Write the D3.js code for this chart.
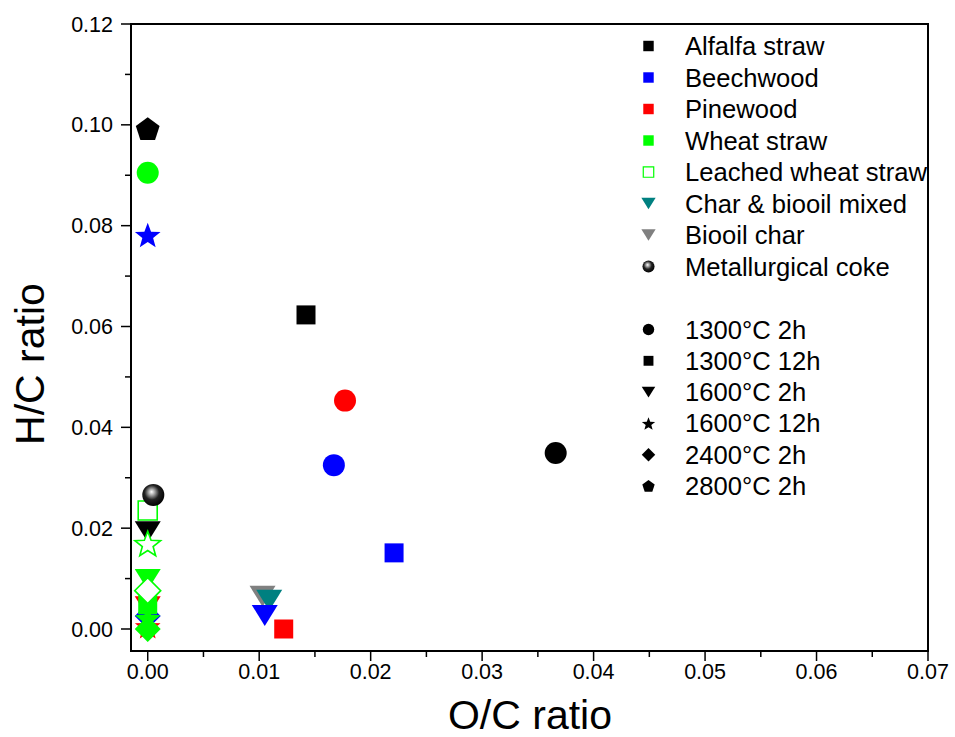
<!DOCTYPE html>
<html><head><meta charset="utf-8">
<script src="https://cdn.jsdelivr.net/npm/d3@7/dist/d3.min.js"></script>
<style>body{margin:0;background:#fff}svg{display:block}text{font-family:"Liberation Sans",Arial,sans-serif}</style>
</head><body><svg id="c" width="955" height="737"></svg>
<script>
// ---- data ----
const seriesNames = ["Alfalfa straw","Beechwood","Pinewood","Wheat straw","Leached wheat straw","Char & biooil mixed","Biooil char","Metallurgical coke"];
const conditionNames = ["1300°C 2h","1300°C 12h","1600°C 2h","1600°C 12h","2400°C 2h","2800°C 2h"];
const xTicks = [0,0.01,0.02,0.03,0.04,0.05,0.06,0.07];
const yTicks = [0,0.02,0.04,0.06,0.08,0.10,0.12];
// [O/C, H/C, condition]
const alfalfa = [[0.0366,0.0349,"1300°C 2h"],[0.0142,0.0623,"1300°C 12h"],[0,0.0193,"1600°C 2h"],[0,0.0992,"2800°C 2h"]];
const beechwood = [[0.0167,0.0325,"1300°C 2h"],[0.0221,0.0151,"1300°C 12h"],[0.0105,0.0027,"1600°C 2h"],[0,0.0782,"1600°C 12h"],[0,0.0026,"2400°C 2h"]];
const pinewood = [[0.0177,0.0453,"1300°C 2h"],[0.0122,0.0,"1300°C 12h"],[0,0.0044,"1600°C 2h"],[0,0.0006,"1600°C 12h"]];
const wheat = [[0,0.0905,"1300°C 2h"],[0,0.0098,"1600°C 2h"],[0,0.0048,"1300°C 12h"],[0,0.0022,"1600°C 12h"],[0,0.0,"2400°C 2h"]];
const leached = [[0,0.0235,"1300°C 12h"],[0,0.0170,"1600°C 12h"],[0,0.0076,"2400°C 2h"]];
const charBiooil = [[0.0109,0.0057,"1600°C 2h"]];
const biooilChar = [[0.0103,0.0065,"1600°C 2h"]];
const coke = [[0.0005,0.0266,"coke"]];

// ---- styles ----
const seriesData = [alfalfa,beechwood,pinewood,wheat,leached,charBiooil,biooilChar,coke];
const seriesColor = ["#000000","#0000ff","#ff0000","#00ff00","#00ff00","#008080","#808080","#000000"];
const seriesOpen = [false,false,false,false,true,false,false,false];
const legendShape = ["square","square","square","square","square","tri","tri","sphere"];
const condShape = {"1300°C 2h":"circle","1300°C 12h":"square","1600°C 2h":"tri","1600°C 12h":"star","2400°C 2h":"diamond","2800°C 2h":"pentagon","coke":"sphere"};
const drawOrder = [6,5,0,1,2,3,4,7];

const svg = d3.select("#c");
const L=131,R=928,T=24,B=651;
const x = d3.scaleLinear().domain([-0.0015,0.07]).range([L,R]);
const y = d3.scaleLinear().domain([0,0.12]).range([629,24]);

const defs = svg.append("defs");
const g = defs.append("radialGradient").attr("id","sph").attr("cx","45%").attr("cy","42%").attr("r","60%").attr("fx","42%").attr("fy","36%");
g.append("stop").attr("offset","0%").attr("stop-color","#ffffff");
g.append("stop").attr("offset","22%").attr("stop-color","#aaaaaa");
g.append("stop").attr("offset","55%").attr("stop-color","#222222");
g.append("stop").attr("offset","100%").attr("stop-color","#000000");

function shapePath(shape,s){
  if(shape==="square"){const h=9.5*s;return `M${-h},${-h}H${h}V${h}H${-h}Z`;}
  if(shape==="circle"){const r=11*s;return `M${r},0A${r},${r} 0 1,1 ${-r},0A${r},${r} 0 1,1 ${r},0Z`;}
  if(shape==="tri"){const w=13*s,h=10.5*s;return `M${-w},${-h}L${w},${-h}L0,${h}Z`;}
  if(shape==="diamond"){const w=13*s,h=13*s;return `M0,${-h}L${w},0L0,${h}L${-w},0Z`;}
  if(shape==="star"){const Ro=13.5*s,Ri=Ro*0.42;let p=[];for(let i=0;i<10;i++){const a=-Math.PI/2+i*Math.PI/5;const r=i%2?Ri:Ro;p.push([r*Math.cos(a),r*Math.sin(a)+1.5*s]);}return "M"+p.map(d=>d.join(",")).join("L")+"Z";}
  if(shape==="pentagon"){const Ro=12.5*s;let p=[];for(let i=0;i<5;i++){const a=-Math.PI/2+i*2*Math.PI/5;p.push([Ro*Math.cos(a),Ro*Math.sin(a)+1*s]);}return "M"+p.map(d=>d.join(",")).join("L")+"Z";}
  return "";
}
function drawMarker(sel,shape,color,open,s){
  if(shape==="sphere"){
    sel.append("circle").attr("r",11*s).attr("fill","url(#sph)");
    return;
  }
  const p = sel.append("path").attr("d",shapePath(shape,s));
  if(open){p.attr("fill","#fff").attr("stroke",color).attr("stroke-width",s<1?1.2:1.6);}
  else p.attr("fill",color);
}

// points
const pts = svg.append("g");
drawOrder.forEach(si=>{
  seriesData[si].forEach(d=>{
    const m = pts.append("g").attr("transform",`translate(${x(d[0])},${y(d[1])})`);
    drawMarker(m,condShape[d[2]],seriesColor[si],seriesOpen[si],1);
  });
});

// frame
const ax = svg.append("g").attr("stroke","#000").attr("fill","none");
ax.append("rect").attr("x",L).attr("y",T).attr("width",R-L).attr("height",B-T).attr("stroke-width",2);
yTicks.forEach(v=>ax.append("line").attr("x1",L-10).attr("x2",L).attr("y1",y(v)).attr("y2",y(v)).attr("stroke-width",1.5));
d3.range(0.01,0.12,0.02).forEach(v=>ax.append("line").attr("x1",L-6).attr("x2",L).attr("y1",y(v)).attr("y2",y(v)).attr("stroke-width",1.5));
xTicks.forEach(v=>ax.append("line").attr("x1",x(v)).attr("x2",x(v)).attr("y1",B).attr("y2",B+10).attr("stroke-width",1.5));
d3.range(0.005,0.07,0.01).forEach(v=>ax.append("line").attr("x1",x(v)).attr("x2",x(v)).attr("y1",B).attr("y2",B+6).attr("stroke-width",1.5));

const lab = svg.append("g").attr("font-size",21.5).attr("fill","#000");
yTicks.forEach(v=>lab.append("text").attr("x",L-18).attr("y",y(v)+7.5).attr("text-anchor","end").text(d3.format(".2f")(v)));
xTicks.forEach(v=>lab.append("text").attr("x",x(v)).attr("y",679).attr("text-anchor","middle").text(d3.format(".2f")(v)));

svg.append("text").attr("transform",`translate(44,364) rotate(-90)`).attr("text-anchor","middle").attr("font-size",41).text("H/C ratio");
svg.append("text").attr("x",530).attr("y",729).attr("text-anchor","middle").attr("font-size",41).text("O/C ratio");

// legend
const lg = svg.append("g");
seriesNames.forEach((n,i)=>{
  const yy = 46 + i*31.5;
  const m = lg.append("g").attr("transform",`translate(648.5,${yy})`);
  drawMarker(m,legendShape[i],seriesColor[i],seriesOpen[i],0.55);
  lg.append("text").attr("x",685).attr("y",yy+9).attr("font-size",25.6).text(n);
});
conditionNames.forEach((n,i)=>{
  const yy = 329.5 + i*31.3;
  const m = lg.append("g").attr("transform",`translate(648.5,${yy})`);
  drawMarker(m,condShape[n],"#000",false,0.52);
  lg.append("text").attr("x",685).attr("y",yy+9).attr("font-size",25.6).text(n);
});
</script></body></html>
